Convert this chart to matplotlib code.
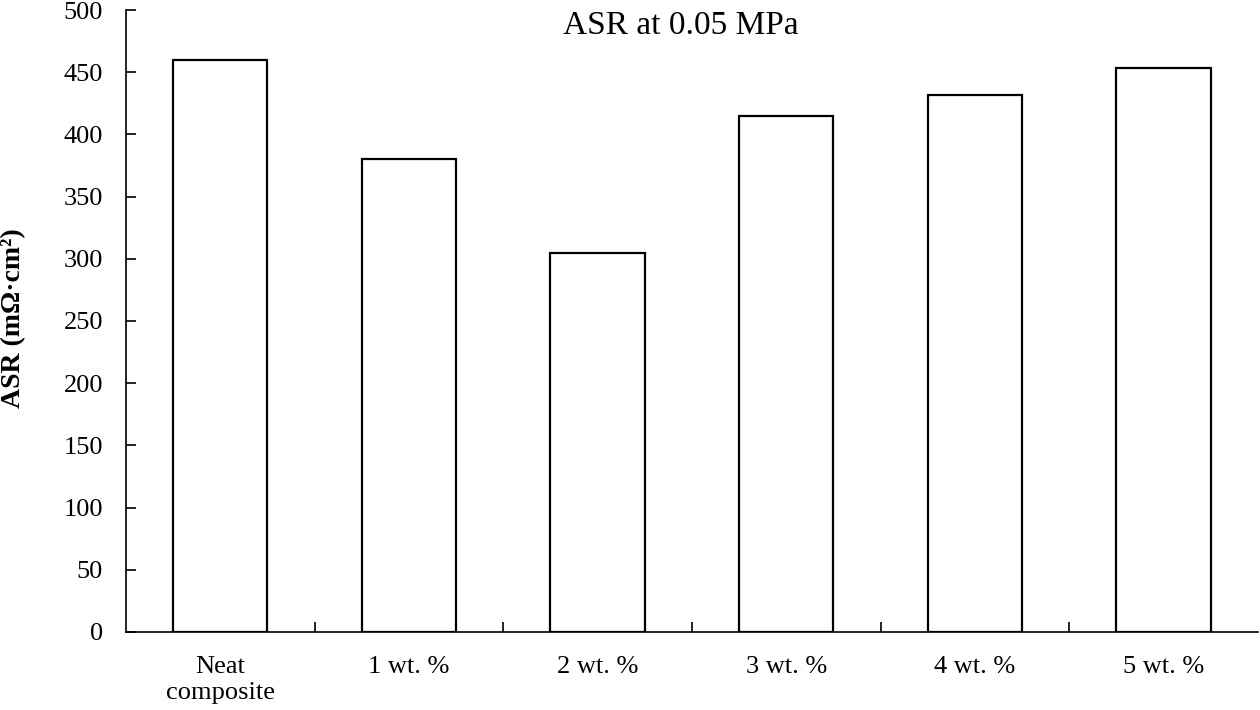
import matplotlib
matplotlib.use("Agg")
import matplotlib.pyplot as plt
import numpy as np

# data
categories = ["Neat\ncomposite", "1 wt. %", "2 wt. %", "3 wt. %", "4 wt. %", "5 wt. %"]
asr_values = [460, 380, 305, 415, 432, 453]
y_ticks = [0, 50, 100, 150, 200, 250, 300, 350, 400, 450, 500]

plt.rcParams["font.family"] = ["Liberation Serif", "DejaVu Serif"]

fig = plt.figure(figsize=(12.6, 7.1), dpi=100)
ax = fig.add_axes([0.1, 0.1099, 0.8984, 0.876])

x = np.arange(len(categories))
ax.bar(x, asr_values, width=0.5, color="white", edgecolor="black", linewidth=1.6)

ax.set_xlim(-0.5, len(categories) - 0.5)
ax.set_ylim(0, 500)
ax.set_yticks(y_ticks)
ax.tick_params(axis="y", direction="in", length=7, width=1.2, labelsize=19, pad=16.5)

# category labels centred, tick marks between categories (Excel style)
ax.set_xticks(x)
ax.set_xticklabels(categories, fontsize=19, linespacing=1.25)
ax.tick_params(axis="x", which="major", length=0, pad=17)
ax.set_xticks(np.arange(0.5, len(categories) - 0.5, 1.0), minor=True)
ax.tick_params(axis="x", which="minor", direction="in", length=7, width=1.2)

for side in ["top", "right"]:
    ax.spines[side].set_visible(False)
for side in ["left", "bottom"]:
    ax.spines[side].set_linewidth(1.2)

fig.text(14 / 1260, 0.5 - (318 - 355) / 710, "ASR (m\u03a9\u00b7cm\u00b2)", fontsize=20,
         fontweight="bold", rotation=90, ha="center", va="center")

fig.text(681 / 1260, 1 - 26 / 710, "ASR at 0.05 MPa", fontsize=24, ha="center", va="center")

fig.savefig("out.png", dpi=100)
